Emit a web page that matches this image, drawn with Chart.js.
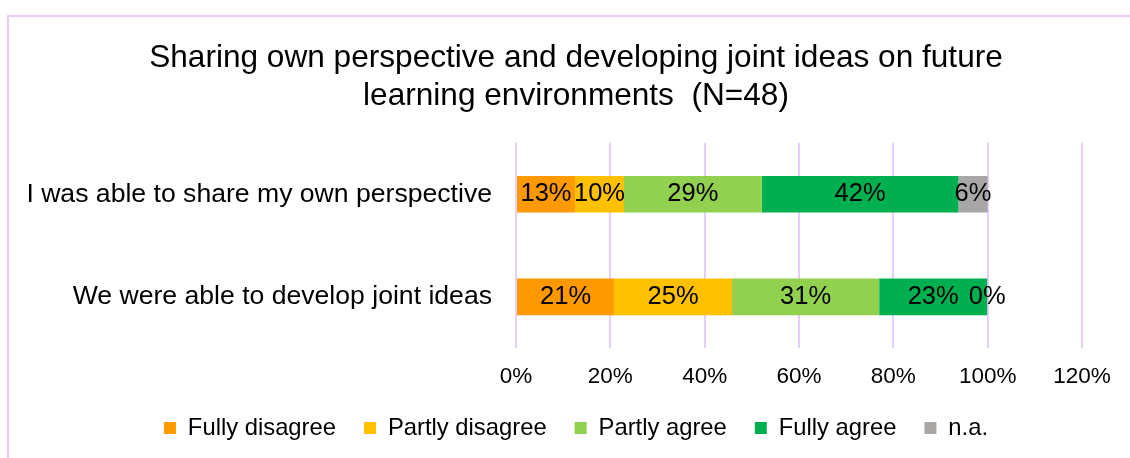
<!DOCTYPE html>
<html>
<head>
<meta charset="utf-8">
<title>Sharing own perspective and developing joint ideas</title>
<script src="https://cdn.jsdelivr.net/npm/chart.js@4/dist/chart.umd.min.js"></script>
<style>
    html, body { margin: 0; padding: 0; background: #ffffff; overflow: hidden; }
    #frame {
        position: absolute; left: 7px; top: 15px;
        width: 1134px; height: 443px;
        border-left: 2px solid #e6cdfb; border-top: 2px solid #e6cdfb;
    }
    #chart { display: block; }
</style>
</head>
<body>
<div id="frame"><canvas id="chart" width="1134" height="441"></canvas></div>
<script>
// Data (percent of N=48 answers)
const categories = ["I was able to share my own perspective", "We were able to develop joint ideas"];
const seriesNames = ["Fully disagree", "Partly disagree", "Partly agree", "Fully agree", "n.a."];
const fullyDisagree = [12.5, 20.8];
const partlyDisagree = [10.4, 25.0];
const partlyAgree = [29.2, 31.2];
const fullyAgree = [41.7, 22.9];
const notAnswered = [6.2, 0];
const xTicks = [0, 20, 40, 60, 80, 100, 120];

const titleLines = ["Sharing own perspective and developing joint ideas on future", "learning environments  (N=48)"];
const colors = ["#ff9900", "#ffc000", "#92d050", "#00b050", "#a9a6a6"];
const FONT = '"Liberation Sans", Arial, sans-serif';

const series = [fullyDisagree, partlyDisagree, partlyAgree, fullyAgree, notAnswered];

// Percent labels in the middle of each segment
const barLabels = {
    id: "barLabels",
    afterDatasetsDraw(chart) {
        const ctx = chart.ctx;
        ctx.save();
        ctx.font = "25.5px " + FONT;
        ctx.fillStyle = "#000000";
        ctx.textAlign = "center";
        ctx.textBaseline = "middle";
        chart.data.datasets.forEach((ds, i) => {
            chart.getDatasetMeta(i).data.forEach((bar, j) => {
                const x = (bar.x + bar.base) / 2;
                ctx.fillText(Math.round(ds.data[j]) + "%", x, bar.y);
            });
        });
        ctx.restore();
    }
};

new Chart(document.getElementById("chart"), {
    type: "bar",
    data: {
        labels: categories,
        datasets: series.map((values, i) => ({
            label: seriesNames[i],
            data: values,
            backgroundColor: colors[i],
            borderWidth: 0,
            barPercentage: 0.356,
            categoryPercentage: 1
        }))
    },
    options: {
        indexAxis: "y",
        responsive: false,
        animation: false,
        layout: { padding: { left: 0, right: 0, top: 0, bottom: 8 } },
        scales: {
            x: {
                stacked: true,
                min: xTicks[0],
                max: xTicks[xTicks.length - 1],
                afterFit: scale => { scale.height = 40; },
                afterBuildTicks: scale => { scale.ticks = xTicks.map(v => ({ value: v })); },
                border: { display: false },
                grid: { color: "#e4cefb", lineWidth: 2, drawTicks: false },
                ticks: {
                    padding: 15,
                    color: "#000000",
                    font: { family: FONT, size: 22.5 },
                    callback: v => v + "%"
                }
            },
            y: {
                stacked: true,
                afterFit: scale => { scale.width = 507; },
                border: { display: false },
                grid: { display: false, drawTicks: false },
                ticks: {
                    padding: 24,
                    color: "#000000",
                    font: { family: FONT, size: 26.6 }
                }
            },
            // empty right-hand box so the plot ends at 120% while title and legend stay centred
            spacer: {
                type: "category",
                position: "right",
                afterFit: scale => { scale.width = 61; },
                border: { display: false },
                grid: { display: false, drawTicks: false },
                ticks: { display: false }
            }
        },
        plugins: {
            title: {
                display: true,
                text: titleLines,
                color: "#000000",
                font: { family: FONT, size: 31.6, weight: "normal", lineHeight: 1.2 },
                padding: { top: 22, bottom: 28 }
            },
            legend: {
                position: "bottom",
                labels: {
                    boxWidth: 12,
                    boxHeight: 12,
                    padding: 28,
                    color: "#000000",
                    font: { family: FONT, size: 23.8 }
                }
            },
            tooltip: { enabled: false }
        }
    },
    plugins: [barLabels]
});
</script>
</body>
</html>
